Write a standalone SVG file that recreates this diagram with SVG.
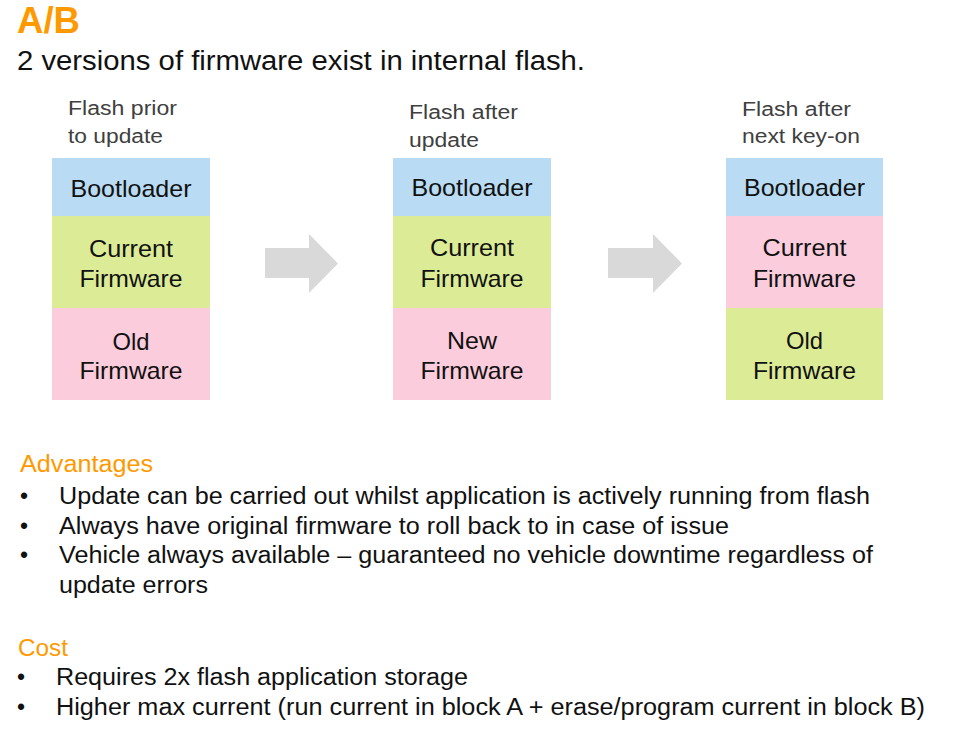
<svg xmlns="http://www.w3.org/2000/svg" width="960" height="753" viewBox="0 0 960 753">
<style>
text{font-family:"Liberation Sans",Arial,sans-serif}
.title{font-size:37px;font-weight:bold;fill:#FF9900}
.sub{font-size:27px;fill:#111}
.lbl{font-size:20px;fill:#404040}
.box{font-size:24px;fill:#111;text-anchor:middle}
.head{font-size:23px;fill:#FF9900}
.body{font-size:23px;fill:#111}
.blue{fill:#B9DCF4}
.green{fill:#DCEC96}
.pink{fill:#FBCCDC}
.arrow{fill:#D9D9D9}
</style>
<rect width="960" height="753" fill="#fff"/>
<text class="title" x="17" y="33" textLength="63" lengthAdjust="spacingAndGlyphs">A/B</text>
<text class="sub" x="17" y="70" textLength="568" lengthAdjust="spacingAndGlyphs">2 versions of firmware exist in internal flash.</text>

<g id="col1">
<text class="lbl" x="68" y="115" textLength="109" lengthAdjust="spacingAndGlyphs">Flash prior</text>
<text class="lbl" x="68" y="143" textLength="95" lengthAdjust="spacingAndGlyphs">to update</text>
<rect class="blue" x="52" y="158" width="158" height="58"/>
<rect class="green" x="52" y="216" width="158" height="92"/>
<rect class="pink" x="52" y="308" width="158" height="92"/>
<text class="box" x="131" y="197" textLength="121" lengthAdjust="spacingAndGlyphs">Bootloader</text>
<text class="box" x="131" y="257" textLength="84" lengthAdjust="spacingAndGlyphs">Current</text>
<text class="box" x="131" y="287" textLength="103" lengthAdjust="spacingAndGlyphs">Firmware</text>
<text class="box" x="131" y="350" textLength="37" lengthAdjust="spacingAndGlyphs">Old</text>
<text class="box" x="131" y="379" textLength="103" lengthAdjust="spacingAndGlyphs">Firmware</text>
</g>

<g id="col2">
<text class="lbl" x="409" y="119" textLength="109" lengthAdjust="spacingAndGlyphs">Flash after</text>
<text class="lbl" x="409" y="147" textLength="70" lengthAdjust="spacingAndGlyphs">update</text>
<rect class="blue" x="393" y="158" width="158" height="58"/>
<rect class="green" x="393" y="216" width="158" height="92"/>
<rect class="pink" x="393" y="308" width="158" height="92"/>
<text class="box" x="472" y="196" textLength="121" lengthAdjust="spacingAndGlyphs">Bootloader</text>
<text class="box" x="472" y="256" textLength="84" lengthAdjust="spacingAndGlyphs">Current</text>
<text class="box" x="472" y="287" textLength="103" lengthAdjust="spacingAndGlyphs">Firmware</text>
<text class="box" x="472" y="349" textLength="50" lengthAdjust="spacingAndGlyphs">New</text>
<text class="box" x="472" y="379" textLength="103" lengthAdjust="spacingAndGlyphs">Firmware</text>
</g>

<g id="col3">
<text class="lbl" x="742" y="116" textLength="109" lengthAdjust="spacingAndGlyphs">Flash after</text>
<text class="lbl" x="742" y="143" textLength="118" lengthAdjust="spacingAndGlyphs">next key-on</text>
<rect class="blue" x="726" y="158" width="157" height="58"/>
<rect class="pink" x="726" y="216" width="157" height="92"/>
<rect class="green" x="726" y="308" width="157" height="92"/>
<text class="box" x="804.5" y="196" textLength="121" lengthAdjust="spacingAndGlyphs">Bootloader</text>
<text class="box" x="804.5" y="256" textLength="84" lengthAdjust="spacingAndGlyphs">Current</text>
<text class="box" x="804.5" y="287" textLength="103" lengthAdjust="spacingAndGlyphs">Firmware</text>
<text class="box" x="804.5" y="349" textLength="37" lengthAdjust="spacingAndGlyphs">Old</text>
<text class="box" x="804.5" y="379" textLength="103" lengthAdjust="spacingAndGlyphs">Firmware</text>
</g>

<g id="connectors">
<polygon class="arrow" points="265,248 309,248 309,234 338,263.5 309,293 309,278 265,278"/>
<polygon class="arrow" points="608,248 653,248 653,234 682,263.5 653,293 653,278 608,278"/>
</g>

<g id="advantages">
<text class="head" x="20" y="472" textLength="133" lengthAdjust="spacingAndGlyphs">Advantages</text>
<text class="body" x="20" y="504">•</text>
<text class="body" x="20" y="534">•</text>
<text class="body" x="20" y="563">•</text>
<text class="body" x="59" y="504" textLength="811" lengthAdjust="spacingAndGlyphs">Update can be carried out whilst application is actively running from flash</text>
<text class="body" x="59" y="534" textLength="670" lengthAdjust="spacingAndGlyphs">Always have original firmware to roll back to in case of issue</text>
<text class="body" x="59" y="563" textLength="814" lengthAdjust="spacingAndGlyphs">Vehicle always available – guaranteed no vehicle downtime regardless of</text>
<text class="body" x="59" y="593" textLength="149" lengthAdjust="spacingAndGlyphs">update errors</text>
</g>

<g id="cost">
<text class="head" x="18" y="656" textLength="50" lengthAdjust="spacingAndGlyphs">Cost</text>
<text class="body" x="17" y="685">•</text>
<text class="body" x="17" y="715">•</text>
<text class="body" x="56" y="685" textLength="412" lengthAdjust="spacingAndGlyphs">Requires 2x flash application storage</text>
<text class="body" x="56" y="715" textLength="869" lengthAdjust="spacingAndGlyphs">Higher max current (run current in block A + erase/program current in block B)</text>
</g>
</svg>
